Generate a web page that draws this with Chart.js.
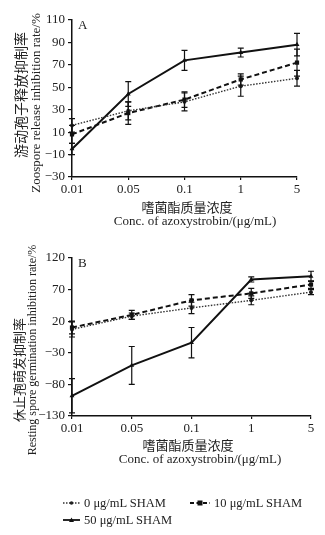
<!DOCTYPE html>
<html><head><meta charset="utf-8">
<script src="https://cdn.jsdelivr.net/npm/chart.js@4.4.1/dist/chart.umd.min.js"></script>
<style>
html,body{margin:0;padding:0;background:#fff;}
#wrap{position:relative;width:325px;height:535px;overflow:hidden;background:#fff;}
canvas{position:absolute;left:0;top:0;}
.lg{position:absolute;font-family:'Liberation Serif',serif;font-size:12.5px;color:#222;white-space:nowrap;display:flex;align-items:center;height:16px;}
.lg svg{margin-right:4px;}
</style></head><body>
<div id="wrap">
<canvas id="cA" width="325" height="535"></canvas>
<canvas id="cB" width="325" height="535"></canvas>
<div class="lg" style="left:63px;top:495px"><svg width="17" height="8"><line x1="0" y1="4" x2="17" y2="4" stroke="#333" stroke-width="1.3" stroke-dasharray="1.5 1.5"/><circle cx="8.5" cy="4" r="1.8" fill="#222"/></svg><span id="lg0"></span></div>
<div class="lg" style="left:190px;top:495px"><svg width="20" height="8"><line x1="0" y1="4" x2="20" y2="4" stroke="#111" stroke-width="1.8" stroke-dasharray="4 2.5"/><rect x="7.5" y="1.5" width="5" height="5" fill="#111"/></svg><span id="lg1"></span></div>
<div class="lg" style="left:63px;top:512px"><svg width="17" height="8"><line x1="0" y1="4" x2="17" y2="4" stroke="#111" stroke-width="1.8"/><polygon points="8.5,1.5 11,6 6,6" fill="#111"/></svg><span id="lg2"></span></div>
</div>
<script>
// ---- data ----
const concLabels = ['0.01', '0.05', '0.1', '1', '5'];
const seriesNames = ['0 μg/mL SHAM', '10 μg/mL SHAM', '50 μg/mL SHAM'];

// Panel A: zoospore release inhibition rate (%)
const zoosporeSham0 = [16, 29, 37, 51, 58];
const zoosporeSham0Err = [6, 8, 8, 9, 7];
const zoosporeSham10 = [8, 27, 39, 57, 72];
const zoosporeSham10Err = [8, 10, 7, 5, 12];
const zoosporeSham50 = [-5, 44, 74, 81, 88];
const zoosporeSham50Err = [5, 11, 9, 4, 10];
const yTicksA = [-30, -10, 10, 30, 50, 70, 90, 110];

// Panel B: resting spore germination inhibition rate (%)
const germSham0 = [7, 28, 41, 53, 66];
const germSham0Err = [12, 5, 9, 7, 4];
const germSham10 = [10, 30, 53, 64, 78];
const germSham10Err = [10, 7, 9, 8, 6];
const germSham50 = [-98, -50, -14, 86, 91];
const germSham50Err = [27, 30, 24, 4, 8];
const yTicksB = [-130, -80, -30, 20, 70, 120];

document.getElementById('lg0').textContent = seriesNames[0];
document.getElementById('lg1').textContent = seriesNames[1];
document.getElementById('lg2').textContent = seriesNames[2];

const serif = "'Liberation Serif', 'Times New Roman', serif";
const cjk = "'Noto Sans CJK SC', sans-serif";

const errorBars = {
  id: 'errorBars',
  afterDatasetsDraw(chart) {
    const ctx = chart.ctx, ys = chart.scales.y;
    chart.data.datasets.forEach((ds, di) => {
      const meta = chart.getDatasetMeta(di);
      ctx.save();
      ctx.strokeStyle = '#111'; ctx.lineWidth = 1.2; ctx.setLineDash([]);
      meta.data.forEach((pt, i) => {
        const v = ds.data[i].y, e = ds.errors[i];
        const y1 = ys.getPixelForValue(v + e), y2 = ys.getPixelForValue(v - e), x = pt.x;
        ctx.beginPath();
        ctx.moveTo(x, y1); ctx.lineTo(x, y2);
        ctx.moveTo(x - 3, y1); ctx.lineTo(x + 3, y1);
        ctx.moveTo(x - 3, y2); ctx.lineTo(x + 3, y2);
        ctx.stroke();
      });
      ctx.restore();
    });
  }
};

const axisText = {
  id: 'axisText',
  afterDraw(chart, args, o) {
    const ctx = chart.ctx, a = chart.chartArea;
    const cx = (a.left + a.right) / 2, cy = (a.top + a.bottom) / 2;
    o.items.forEach(t => {
      ctx.save();
      ctx.font = t.font; ctx.fillStyle = '#222';
      ctx.textAlign = t.align || 'center'; ctx.textBaseline = 'middle';
      let x, y;
      if (t.kind === 'y') { x = a.left + t.dx; y = cy + t.dy; }
      else if (t.kind === 'x') { x = cx + t.dx; y = a.bottom + t.dy; }
      else { x = a.left + t.dx; y = a.top + t.dy; }
      ctx.translate(x, y);
      if (t.kind === 'y') ctx.rotate(-Math.PI / 2);
      ctx.fillText(t.text, 0, 0);
      ctx.restore();
    });
  }
};

function toPts(arr) { return arr.map((v, i) => ({ x: i, y: v })); }

function makeDatasets(d0, e0, d10, e10, d50, e50) {
  return [
    { label: seriesNames[0], data: toPts(d0), errors: e0, borderColor: '#333', backgroundColor: '#222',
      borderWidth: 1.4, borderDash: [1.5, 1.5], pointStyle: 'circle', pointRadius: 2, pointBorderWidth: 0 },
    { label: seriesNames[1], data: toPts(d10), errors: e10, borderColor: '#111', backgroundColor: '#111',
      borderWidth: 2, borderDash: [5, 3], pointStyle: 'rect', pointRadius: 3, pointBorderWidth: 0 },
    { label: seriesNames[2], data: toPts(d50), errors: e50, borderColor: '#111', backgroundColor: '#111',
      borderWidth: 2, pointStyle: 'triangle', pointRadius: 2.8, pointBorderWidth: 0 }
  ];
}

function makeChart(id, datasets, yTicks, pad, textItems) {
  return new Chart(document.getElementById(id), {
    type: 'line',
    data: { datasets },
    options: {
      responsive: false, animation: false, devicePixelRatio: 1,
      clip: false,
      layout: { padding: pad },
      elements: { line: { tension: 0, fill: false } },
      plugins: { legend: { display: false }, tooltip: { enabled: false }, axisText: { items: textItems } },
      scales: {
        x: {
          type: 'linear', min: 0, max: concLabels.length - 1, offset: false,
          afterBuildTicks: s => { s.ticks = concLabels.map((_, i) => ({ value: i })); },
          afterFit: s => { s.height = 20; },
          ticks: { callback: v => concLabels[v], font: { family: serif, size: 13 }, color: '#222', padding: 2, maxRotation: 0, autoSkip: false },
          grid: { display: true, drawOnChartArea: false, drawTicks: true, tickLength: 3, color: '#111', lineWidth: 1.2 },
          border: { display: true, color: '#111', width: 1.5 }
        },
        y: {
          type: 'linear', min: yTicks[0], max: yTicks[yTicks.length - 1],
          afterBuildTicks: s => { s.ticks = yTicks.map(v => ({ value: v })); },
          afterFit: s => { s.width = 72; },
          ticks: { callback: v => String(v).replace('-', '\u2212'), font: { family: serif, size: 13 }, color: '#222', padding: 3 },
          grid: { display: true, drawOnChartArea: false, drawTicks: true, tickLength: 4, color: '#111', lineWidth: 1.2 },
          border: { display: true, color: '#111', width: 1.5 }
        }
      }
    },
    plugins: [errorBars, axisText]
  });
}

makeChart('cA',
  makeDatasets(zoosporeSham0, zoosporeSham0Err, zoosporeSham10, zoosporeSham10Err, zoosporeSham50, zoosporeSham50Err),
  yTicksA,
  { top: 20, left: 0, right: 28, bottom: 338 },
  [
    { kind: 'y', text: '游动孢子释放抑制率', font: '14px ' + cjk, dx: -51, dy: -3.5 },
    { kind: 'y', text: 'Zoospore release inhibition rate/%', font: '13px ' + serif, dx: -35, dy: 4.5 },
    { kind: 'x', text: '嗜菌酯质量浓度', font: '13px ' + cjk, dx: 2.5, dy: 30 },
    { kind: 'x', text: 'Conc. of azoxystrobin/(μg/mL)', font: '13px ' + serif, dx: 10.5, dy: 45 },
    { kind: 'c', text: 'A', font: '13px ' + serif, dx: 6, dy: 6, align: 'left' }
  ]);

makeChart('cB',
  makeDatasets(germSham0, germSham0Err, germSham10, germSham10Err, germSham50, germSham50Err),
  yTicksB,
  { top: 258, left: 0, right: 14, bottom: 99 },
  [
    { kind: 'y', text: '休止孢萌发抑制率', font: '13px ' + cjk, dx: -53, dy: 33 },
    { kind: 'y', text: 'Resting spore germination inhibition rate/%', font: '12px ' + serif, dx: -39, dy: 13 },
    { kind: 'x', text: '嗜菌酯质量浓度', font: '13px ' + cjk, dx: -3.5, dy: 29 },
    { kind: 'x', text: 'Conc. of azoxystrobin/(μg/mL)', font: '13px ' + serif, dx: 8.5, dy: 44 },
    { kind: 'c', text: 'B', font: '13px ' + serif, dx: 6, dy: 6, align: 'left' }
  ]);
</script>
</body></html>
